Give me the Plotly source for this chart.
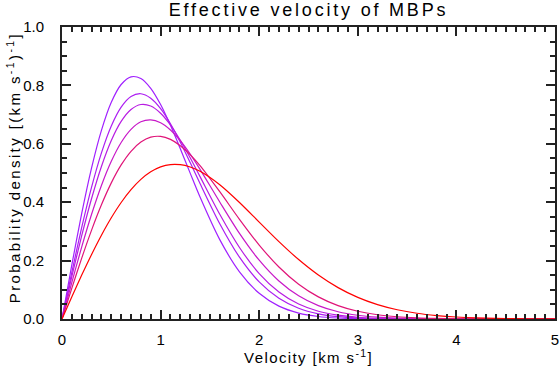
import plotly.graph_objects as go

velocity = [0.0, 0.1, 0.2, 0.3, 0.4, 0.5, 0.6, 0.7, 0.8, 0.9, 1.0, 1.1, 1.2, 1.3, 1.4,
            1.6, 1.8, 2.0, 2.2, 2.4, 2.6, 2.8, 3.0, 3.2, 3.4, 3.6, 3.8, 4.0, 4.2, 4.4,
            4.6, 4.8, 5.0]

density_1 = [0.0, 0.1859, 0.3615, 0.5174, 0.6460, 0.7421, 0.8031, 0.8294, 0.8236, 0.7899,
             0.7343, 0.6632, 0.5832, 0.4996, 0.4177,
             0.2718, 0.1616, 0.0880, 0.0440, 0.0203, 0.0086, 0.0034, 0.0012, 0.0004, 0.0001,
             0.0, 0.0, 0.0, 0.0, 0.0, 0.0, 0.0, 0.0]
density_2 = [0.0, 0.1606, 0.3134, 0.4514, 0.5688, 0.6611, 0.7257, 0.7621, 0.7714, 0.7562,
             0.7206, 0.6687, 0.6056, 0.5359, 0.4639,
             0.3263, 0.2117, 0.1271, 0.0709, 0.0367, 0.0177, 0.0080, 0.0033, 0.0013, 0.0005,
             0.0002, 0.0, 0.0, 0.0, 0.0, 0.0, 0.0, 0.0]
density_3 = [0.0, 0.1458, 0.2853, 0.4126, 0.5225, 0.6113, 0.6767, 0.7175, 0.7345, 0.7294,
             0.7048, 0.6644, 0.6121, 0.5520, 0.4875,
             0.3585, 0.2448, 0.1556, 0.0924, 0.0512, 0.0266, 0.0130, 0.0059, 0.0025, 0.0010,
             0.0004, 0.0001, 0.0, 0.0, 0.0, 0.0, 0.0, 0.0]
density_4 = [0.0, 0.1257, 0.2468, 0.3586, 0.4574, 0.5401, 0.6046, 0.6496, 0.6753, 0.6821,
             0.6721, 0.6473, 0.6105, 0.5647, 0.5126,
             0.4008, 0.2933, 0.2015, 0.1303, 0.0794, 0.0457, 0.0248, 0.0128, 0.0062, 0.0029,
             0.0013, 0.0005, 0.0002, 0.0001, 0.0, 0.0, 0.0, 0.0]
density_5 = [0.0, 0.1059, 0.2085, 0.3045, 0.3912, 0.4662, 0.5276, 0.5743, 0.6059, 0.6227,
             0.6253, 0.6150, 0.5936, 0.5629, 0.5251,
             0.4359, 0.3414, 0.2532, 0.1781, 0.1190, 0.0757, 0.0459, 0.0265, 0.0146, 0.0077,
             0.0039, 0.0019, 0.0009, 0.0004, 0.0002, 0.0001, 0.0, 0.0]
density_6 = [0.0, 0.0760, 0.1503, 0.2211, 0.2871, 0.3467, 0.3990, 0.4429, 0.4781, 0.5040,
             0.5209, 0.5289, 0.5285, 0.5205, 0.5058,
             0.4598, 0.3990, 0.3318, 0.2650, 0.2036, 0.1506, 0.1074, 0.0739, 0.0491, 0.0316,
             0.0196, 0.0118, 0.0068, 0.0038, 0.0021, 0.0011, 0.0006, 0.0003]

series = [density_1, density_2, density_3, density_4, density_5, density_6]
colors = ["#a020ff", "#ac1ef2", "#b81ce2", "#c818c8", "#e01478", "#ff0000"]

x_ticks = [0, 1, 2, 3, 4, 5]
y_ticks = [0.0, 0.2, 0.4, 0.6, 0.8, 1.0]

title_text = "Effective velocity of MBPs"
x_title = "Velocity [km s<sup>-1</sup>]"
y_title = "Probability density [(km s<sup>-1</sup>)<sup>-1</sup>]"

fig = go.Figure()
for ys, c in zip(series, colors):
    fig.add_trace(go.Scatter(x=velocity, y=ys, mode="lines",
                             line=dict(color=c, width=1.2, shape="spline", smoothing=0.8),
                             showlegend=False, hoverinfo="skip"))

tick_font = dict(family="Liberation Sans, Arial, sans-serif", size=15, color="black")
axis_common = dict(showline=True, linewidth=2, linecolor="#222222", mirror="allticks",
                   ticks="inside", ticklen=9, tickwidth=2, tickcolor="#222222",
                   showgrid=False, zeroline=False, tickfont=tick_font)

fig.update_xaxes(range=[0, 5], tickvals=x_ticks, ticktext=[str(v) for v in x_ticks],
                 minor=dict(dtick=0.1, ticklen=5, tickwidth=1.5, ticks="inside",
                            tickcolor="#222222", showgrid=False),
                 ticklabelstandoff=6, **axis_common)
fig.update_yaxes(range=[0, 1], tickvals=y_ticks, ticktext=["%.1f" % v for v in y_ticks],
                 minor=dict(dtick=0.05, ticklen=5, tickwidth=1.5, ticks="inside",
                            tickcolor="#222222", showgrid=False),
                 ticklabelstandoff=13, **axis_common)

fig.update_layout(
    width=560, height=372,
    margin=dict(l=62, r=5, t=27, b=53, autoexpand=False),
    paper_bgcolor="white", plot_bgcolor="white",
    title=dict(text=title_text, x=0.5, xref="paper", xanchor="center",
               y=1 - 10 / 372, yref="container", yanchor="middle",
               font=dict(family="Liberation Sans, Arial, sans-serif", size=18, color="black")),
    annotations=[
        dict(text=x_title, xref="paper", yref="paper", x=0.5, y=-0.13,
             xanchor="center", yanchor="middle", showarrow=False,
             font=dict(family="Liberation Sans, Arial, sans-serif", size=15, color="black")),
        dict(text=y_title, xref="paper", yref="paper", x=-0.10, y=0.52,
             xanchor="center", yanchor="middle", showarrow=False, textangle=-90,
             font=dict(family="Liberation Sans, Arial, sans-serif", size=15, color="black")),
    ],
)

css_js = """
var st = document.createElement('style');
st.innerHTML = 'html,body{margin:0;padding:0;overflow:hidden;} .gtitle{letter-spacing:2.8px;} g.annotation[data-index="0"] text{letter-spacing:1.4px;} g.annotation[data-index="1"] text{letter-spacing:2.4px;}';
document.head.appendChild(st);
"""
fig.write_html("out.html", post_script=css_js, config={"displayModeBar": False})
